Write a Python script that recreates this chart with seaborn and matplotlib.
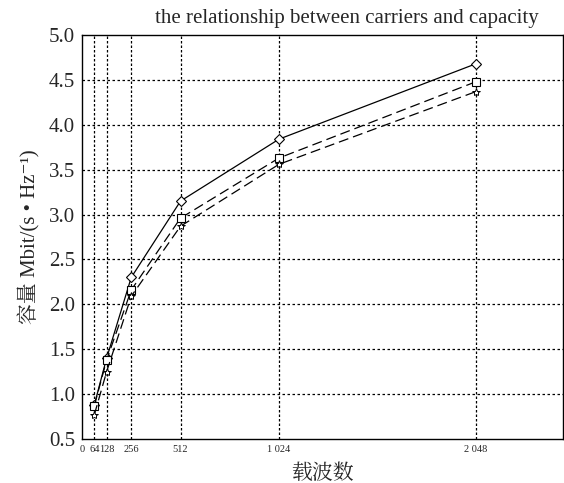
import matplotlib
matplotlib.use("Agg")
import matplotlib.pyplot as plt
import seaborn as sns
import pandas as pd

carriers = [64, 128, 256, 512, 1024, 2048]
cap_diamond = [0.88, 1.40, 2.30, 3.15, 3.84, 4.68]
cap_square = [0.87, 1.38, 2.16, 2.96, 3.63, 4.48]
cap_star = [0.77, 1.25, 2.09, 2.87, 3.56, 4.37]
xtick_vals = [0, 64, 128, 256, 512, 1024, 2048]
xtick_labels = ["0", "64", "128", "256", "512", "1 024", "2 048"]
ytick_vals = [0.5, 1.0, 1.5, 2.0, 2.5, 3.0, 3.5, 4.0, 4.5, 5.0]

sns.set_style("white")
plt.rcParams['font.family'] = ['Liberation Serif', 'Noto Serif CJK SC', 'Noto Sans CJK SC', 'DejaVu Sans']

fig = plt.figure(figsize=(5.64, 4.83), dpi=100)
ax = fig.add_axes([82/564, 1 - 439/483, (563-82)/564, (439-35)/483])

df = pd.DataFrame({"x": carriers, "a": cap_diamond, "b": cap_square, "c": cap_star})

sns.lineplot(data=df, x="x", y="a", ax=ax, color="black", lw=0.9, marker="D",
             markersize=5, markerfacecolor="white", markeredgecolor="black", markeredgewidth=0.8)
sns.lineplot(data=df, x="x", y="b", ax=ax, color="black", lw=0.9, marker="s",
             markersize=6, markerfacecolor="white", markeredgecolor="black", markeredgewidth=0.8,
             dashes=False, linestyle=(0, (8, 4)))
sns.lineplot(data=df, x="x", y="c", ax=ax, color="black", lw=0.9, marker="*",
             markersize=6, markerfacecolor="white", markeredgecolor="black", markeredgewidth=0.7,
             dashes=False, linestyle=(0, (8, 4)))

ax.set_xlim(0, 2500)
ax.set_ylim(0.5, 5.0)
ax.set_xticks(xtick_vals)
ax.set_xticklabels(xtick_labels, fontsize=7.5)
ax.set_yticks(ytick_vals)
ax.set_yticklabels([f"{v:.1f}" for v in ytick_vals], fontsize=15)
ax.tick_params(axis="both", direction="in", length=4, width=0.8, color="black")
ax.tick_params(axis="x", pad=4)
ax.tick_params(axis="y", pad=5)

for v in carriers:
    ax.axvline(v, color="black", lw=0.9, linestyle=(0, (2, 1.6)), zorder=0)
for v in ytick_vals[1:-1]:
    ax.axhline(v, color="black", lw=0.9, linestyle=(0, (2, 2)), zorder=0)

for s in ax.spines.values():
    s.set_color("black")
    s.set_linewidth(1.0)

ax.set_xlabel("载波数", fontsize=15, labelpad=8)
ax.set_ylabel("容量 Mbit/(s • Hz⁻¹)", fontsize=15, labelpad=6)
fig.text(347/564, 1 - 18/483, "the relationship between carriers and capacity",
         ha="center", va="center", fontsize=15)

fig.savefig("out.png", dpi=100)
